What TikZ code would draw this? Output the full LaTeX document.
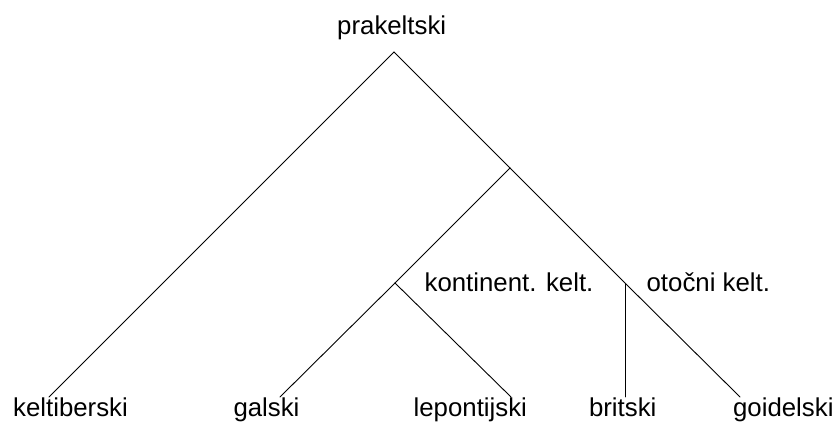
\documentclass[tikz,border=0pt]{standalone}
\usepackage{fontspec}
\setmainfont{Liberation Sans}
\begin{document}
\begin{tikzpicture}[x=1pt,y=-1pt,
  lbl/.style={font=\fontsize{25.8}{30}\selectfont, anchor=base, inner sep=0pt},
  edge/.style={line width=0.9pt, line cap=round}]
\useasboundingbox (0,0) rectangle (837,422);
% tree points
\coordinate (root) at (394,52);
\coordinate (isl) at (625.5,283.5);
\coordinate (cel) at (510,168);
\coordinate (kon) at (395,283);
\coordinate (lkel) at (49,397);
\coordinate (lgal) at (280,397);
\coordinate (llep) at (511,397);
\coordinate (lbri) at (625.5,397);
\coordinate (lgoi) at (740,397);
% edges
\draw[edge] (root) -- (lkel);
\draw[edge] (root) -- (cel);
\draw[edge] (cel) -- (isl);
\draw[edge] (isl) -- (lgoi);
\draw[edge] (cel) -- (kon);
\draw[edge] (kon) -- (lgal);
\draw[edge] (kon) -- (llep);
\draw[edge] (isl) -- (lbri);
% labels
\node[lbl] (tprak) at (391.7,35) {prakeltski};
\node[lbl] (tkon) at (509,291.7) {kontinent. kelt.};
\node[lbl] (toto) at (708.3,291.7) {otočni kelt.};
\node[lbl] (tkel) at (70.5,416.7) {keltiberski};
\node[lbl] (tgal) at (266.5,416.7) {galski};
\node[lbl] (tlep) at (470.3,416.7) {lepontijski};
\node[lbl] (tbri) at (622.7,416.7) {britski};
\node[lbl] (tgoi) at (783.3,416.7) {goidelski};
\end{tikzpicture}
\end{document}
